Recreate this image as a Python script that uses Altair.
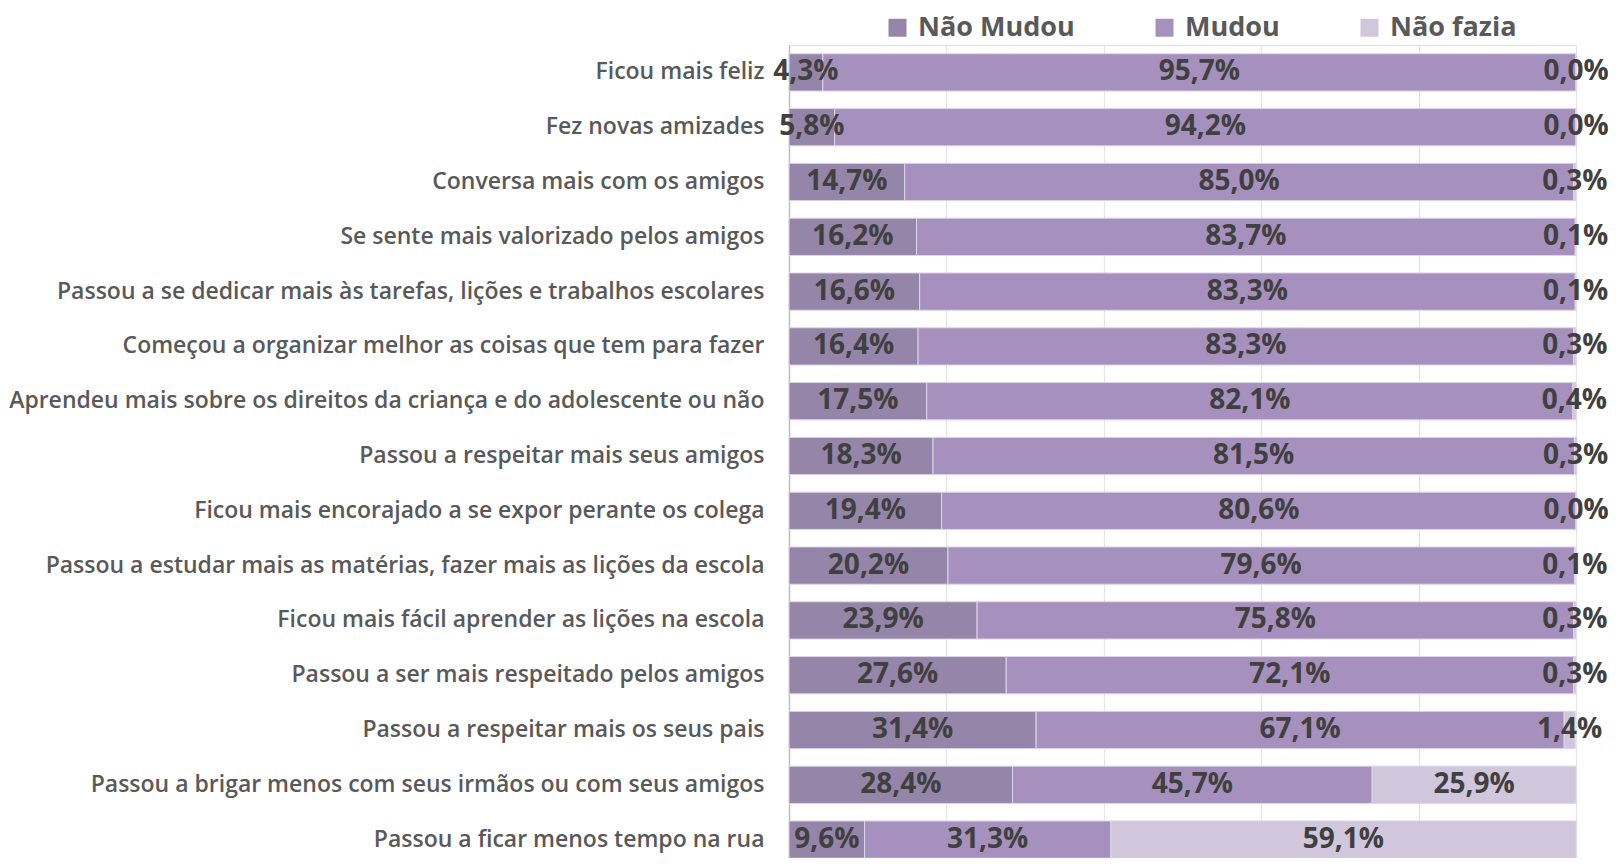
import altair as alt
import pandas as pd

categories = [
    "Ficou mais feliz",
    "Fez novas amizades",
    "Conversa mais  com os amigos",
    "Se sente mais valorizado pelos amigos",
    "Passou a se dedicar mais às tarefas, lições e trabalhos escolares",
    "Começou a organizar melhor as coisas que tem para fazer",
    "Aprendeu mais sobre os direitos da criança e do adolescente ou não",
    "Passou a respeitar mais seus amigos",
    "Ficou mais encorajado a se expor perante os colega",
    "Passou a estudar mais as matérias, fazer mais as lições da escola",
    "Ficou mais fácil aprender as lições na escola",
    "Passou a ser mais respeitado pelos amigos",
    "Passou a respeitar mais os seus pais",
    "Passou a brigar menos com seus irmãos ou com seus amigos",
    "Passou a ficar menos tempo na rua",
]

nao_mudou = [4.3, 5.8, 14.7, 16.2, 16.6, 16.4, 17.5, 18.3, 19.4, 20.2, 23.9, 27.6, 31.4, 28.4, 9.6]
mudou = [95.7, 94.2, 85.0, 83.7, 83.3, 83.3, 82.1, 81.5, 80.6, 79.6, 75.8, 72.1, 67.1, 45.7, 31.3]
nao_fazia = [0.0, 0.0, 0.3, 0.1, 0.1, 0.3, 0.4, 0.3, 0.0, 0.1, 0.3, 0.3, 1.4, 25.9, 59.1]

series_names = ["Não Mudou", "Mudou", "Não fazia"]
series_colors = ["#9585A9", "#A690BE", "#D0C7DC"]

rows = []
for i, cat in enumerate(categories):
    for k, (name, vals) in enumerate(zip(series_names, [nao_mudou, mudou, nao_fazia])):
        rows.append({"category": cat, "series": name, "order": k, "value": vals[i]})
df = pd.DataFrame(rows)

FONT = "Open Sans"

base = alt.Chart(df).transform_stack(
    stack="value",
    groupby=["category"],
    as_=["x0", "x1"],
    sort=[alt.SortField("order", order="ascending")],
).transform_calculate(
    mid="(datum.x0 + datum.x1) / 2",
    label="replace(format(datum.value, '.1f'), '.', ',') + '%'",
)

y_enc = alt.Y(
    "category:N",
    sort=categories,
    title=None,
    scale=alt.Scale(paddingInner=0.32, paddingOuter=0.16),
    axis=alt.Axis(
        labelFont=FONT,
        labelFontSize=23,
        labelFontWeight=600,
        labelColor="#595959",
        labelPadding=25,
        labelLimit=900,
        ticks=False,
        domain=True,
        domainColor="#bfbfbf",
        domainWidth=1.5,
        grid=False,
    ),
)

x_scale = alt.Scale(domain=[0, 100], nice=False, zero=True)

bars = base.mark_bar(stroke="#ddd5e8", strokeWidth=1).encode(
    y=y_enc,
    x=alt.X(
        "x0:Q",
        scale=x_scale,
        title=None,
        axis=alt.Axis(
            values=[0, 20, 40, 60, 80, 100],
            labels=False,
            ticks=False,
            domain=False,
            grid=True,
            gridColor="#e4e4e4",
            gridWidth=1.2,
        ),
    ),
    x2="x1:Q",
    color=alt.Color(
        "series:N",
        scale=alt.Scale(domain=series_names, range=series_colors),
        legend=alt.Legend(
            title=None,
            orient="none",
            direction="horizontal",
            legendX=95,
            legendY=-31,
            padding=0,
            symbolType="square",
            symbolSize=324,
            symbolStrokeWidth=0,
            symbolOpacity=1,
            labelFont=FONT,
            labelFontSize=27,
            labelFontWeight=700,
            labelColor="#595959",
            labelOffset=7,
            columnPadding=76,
            labelLimit=400,
        ),
    ),
    order=alt.Order("order:Q"),
)

texts = base.mark_text(
    font=FONT,
    fontSize=28,
    fontWeight=700,
    color="#404040",
    align="center",
    baseline="middle",
).encode(
    y=alt.Y("category:N", sort=categories),
    x=alt.X("mid:Q", scale=x_scale),
    text="label:N",
)

chart = alt.layer(bars, texts).properties(
    width=787,
    height=822,
    autosize=alt.AutoSizeParams(type="none"),
    padding={"left": 781, "top": 37, "right": 32, "bottom": -9},
).configure_view(stroke=None).configure(background="white")

chart.save("out.html", embed_options={"renderer": "svg", "actions": False})
